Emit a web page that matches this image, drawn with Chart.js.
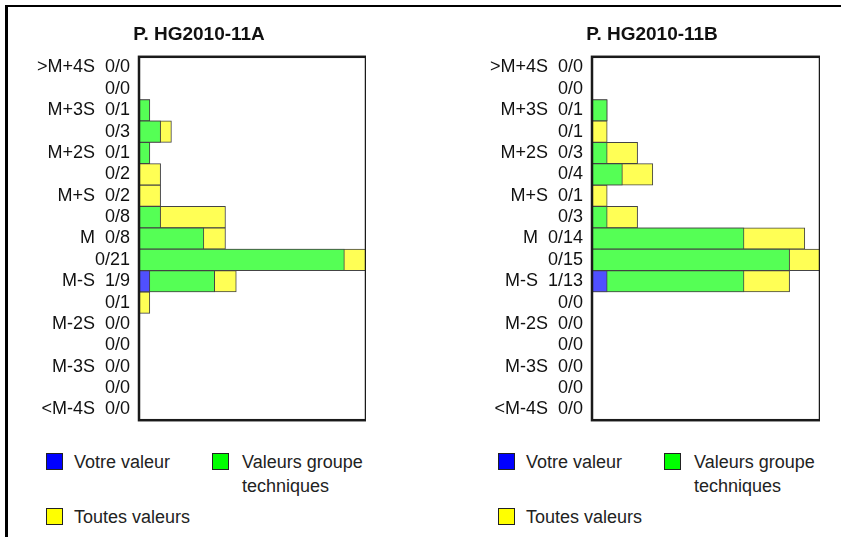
<!DOCTYPE html>
<html>
<head>
<meta charset="utf-8">
<script src="https://cdn.jsdelivr.net/npm/chart.js@4"></script>
<style>
  body { margin: 0; background: #fff; width: 841px; height: 537px; overflow: hidden; position: relative; font-family: "Liberation Sans", Arial, sans-serif; }
  .frame { position: absolute; left: 5px; top: 5px; width: 900px; height: 600px; border-top: 2px solid #000; border-left: 3px solid #000; }
  .box { position: absolute; top: 0; height: 440px; }
  .leg { position: absolute; font-size: 18px; color: #222; line-height: 24px; }
  .sq { position: absolute; width: 15px; height: 15px; border: 1px solid #222; }
</style>
</head>
<body>
<div class="frame"></div>
<div class="box" style="left:32px; width:334px"><canvas id="chartA"></canvas></div>
<div class="box" style="left:484px; width:336px"><canvas id="chartB"></canvas></div>
<div id="legends"></div>

<script>
// categories (rows, top to bottom)
const categories = ['>M+4S', '', 'M+3S', '', 'M+2S', '', 'M+S', '', 'M', '', 'M-S', '', 'M-2S', '', 'M-3S', '', '<M-4S'];

// P. HG2010-11A
const votreA  = [0, 0, 0, 0, 0, 0, 0, 0, 0, 0, 1, 0, 0, 0, 0, 0, 0];
const groupeA = [0, 0, 1, 2, 1, 0, 0, 2, 6, 19, 7, 0, 0, 0, 0, 0, 0];
const toutesA = [0, 0, 1, 3, 1, 2, 2, 8, 8, 21, 9, 1, 0, 0, 0, 0, 0];

// P. HG2010-11B
const votreB  = [0, 0, 0, 0, 0, 0, 0, 0, 0, 0, 1, 0, 0, 0, 0, 0, 0];
const groupeB = [0, 0, 1, 0, 1, 2, 0, 1, 10, 13, 10, 0, 0, 0, 0, 0, 0];
const toutesB = [0, 0, 1, 1, 3, 4, 1, 3, 14, 15, 13, 0, 0, 0, 0, 0, 0];

const legendLabels = ['Votre valeur', 'Valeurs groupe techniques', 'Toutes valeurs'];
const FONT = '"Liberation Sans", Arial, sans-serif';

// dark frame round the plot
const plotFrame = {
  id: 'plotFrame',
  afterDatasetsDraw(chart) {
    const a = chart.chartArea;
    const ctx = chart.ctx;
    ctx.save();
    ctx.strokeStyle = '#1a1a1a';
    ctx.lineWidth = 2.5;
    ctx.strokeRect(a.left, a.top, a.right - a.left, a.bottom - a.top);
    ctx.restore();
  }
};

function makeChart(id, title, votre, groupe, toutes, axisWidth) {
  // tick label = row name + "votre/toutes" count
  const labels = categories.map((c, i) => {
    const cnt = votre[i] + '/' + toutes[i];
    return c ? c + '  ' + cnt : cnt;
  });
  return new Chart(document.getElementById(id), {
    type: 'bar',
    data: {
      labels: labels,
      datasets: [
        { label: legendLabels[0], data: votre, backgroundColor: '#5050ff' },
        { label: legendLabels[1], data: groupe, backgroundColor: '#55ff55' },
        { label: legendLabels[2], data: toutes, backgroundColor: '#ffff55' }
      ].map(d => Object.assign(d, {
        grouped: false, barPercentage: 1, categoryPercentage: 1,
        borderWidth: 1, borderColor: '#444'
      }))
    },
    options: {
      indexAxis: 'y',
      responsive: true,
      maintainAspectRatio: false,
      animation: false,
      layout: { padding: { left: 0, right: 0, top: 0, bottom: 8 } },
      plugins: {
        legend: { display: false },
        tooltip: { enabled: false },
        title: {
          display: true,
          text: title,
          color: '#111',
          font: { family: FONT, size: 19, weight: 'bold' },
          padding: { top: 23, bottom: 11 }
        }
      },
      scales: {
        x: { display: false, min: 0, max: Math.max(...toutes) },
        y: {
          grid: { display: false, drawTicks: false },
          border: { display: false },
          ticks: { autoSkip: false, padding: 9, color: '#111', font: { family: FONT, size: 18 } },
          afterFit: function(scale) { scale.width = axisWidth; }
        }
      }
    },
    plugins: [plotFrame]
  });
}

makeChart('chartA', 'P. HG2010-11A', votreA, groupeA, toutesA, 107);
makeChart('chartB', 'P. HG2010-11B', votreB, groupeB, toutesB, 108);

// html legends under each chart
const legColors = ['#0000ff', '#00ff00', '#ffff00'];
const legHost = document.getElementById('legends');
[0, 452].forEach(off => {
  const items = [
    { sq: [46, 453], txt: [74, 450], w: 120 },
    { sq: [212, 453], txt: [242, 450], w: 140 },
    { sq: [46, 508], txt: [74, 505], w: 160 }
  ];
  items.forEach((it, i) => {
    const s = document.createElement('div');
    s.className = 'sq';
    s.style.left = (it.sq[0] + off) + 'px';
    s.style.top = it.sq[1] + 'px';
    s.style.background = legColors[i];
    legHost.appendChild(s);
    const t = document.createElement('div');
    t.className = 'leg';
    t.style.left = (it.txt[0] + off) + 'px';
    t.style.top = it.txt[1] + 'px';
    t.style.width = it.w + 'px';
    t.textContent = legendLabels[i];
    legHost.appendChild(t);
  });
});
</script>
</body>
</html>
